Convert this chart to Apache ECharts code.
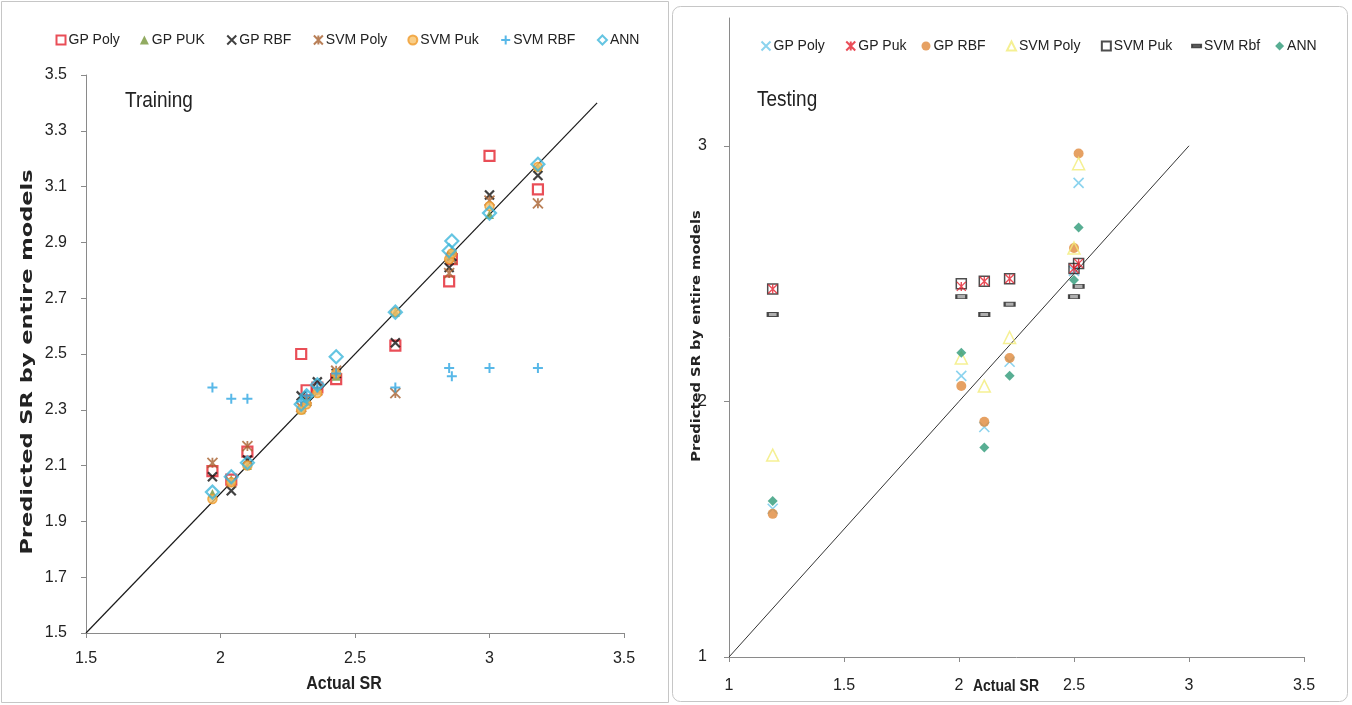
<!DOCTYPE html>
<html>
<head>
<meta charset="utf-8">
<script src="https://cdn.jsdelivr.net/npm/echarts@6/dist/echarts.min.js"></script>
<style>html,body{margin:0;padding:0;background:#fff}#c{width:1352px;height:705px}</style>
</head>
<body>
<div id="c"></div>
<script>
// ---------- Training data ----------
const trainActual = [1.97, 2.04, 2.10, 2.30, 2.32, 2.36, 2.43, 2.65, 2.85, 2.86, 3.00, 3.18];
const trainGPPoly = [2.08, 2.05, 2.15, 2.50, 2.37, 2.38, 2.41, 2.53, 2.76, 2.84, 3.21, 3.09];
const trainGPPUK  = [2.00, 2.05, 2.10, 2.30, 2.33, 2.37, 2.42, 2.65, 2.85, 2.87, 3.00, 3.17];
const trainGPRBF  = [2.06, 2.01, 2.12, 2.35, 2.33, 2.40, 2.43, 2.54, 2.81, 2.85, 3.07, 3.14];
const trainSVMPoly= [2.11, 2.04, 2.17, 2.31, 2.34, 2.37, 2.44, 2.36, 2.79, 2.84, 3.05, 3.04];
const trainSVMPuk = [1.98, 2.04, 2.10, 2.30, 2.32, 2.36, 2.43, 2.65, 2.84, 2.86, 3.03, 3.17];
const trainSVMRBF = [2.38, 2.34, 2.34, 2.33, 2.35, 2.38, 2.43, 2.38, 2.45, 2.42, 2.45, 2.45];
const trainANN    = [2.005, 2.06, 2.11, 2.32, 2.35, 2.39, 2.49, 2.65, 2.87, 2.905, 3.005, 3.18];
const trainNames  = ['GP Poly', 'GP PUK', 'GP RBF', 'SVM Poly', 'SVM Puk', 'SVM RBF', 'ANN'];
const trainLine   = [1.5, 3.4];
const trainYTicks = [1.5, 1.7, 1.9, 2.1, 2.3, 2.5, 2.7, 2.9, 3.1, 3.3, 3.5];

// ---------- Testing data ----------
const testActual  = [1.19, 2.01, 2.11, 2.22, 2.50, 2.52];
const testGPPoly  = [1.58, 2.10, 1.90, 2.155, 2.51, 2.855];
const testGPPuk   = [2.44, 2.45, 2.47, 2.48, 2.52, 2.54];
const testGPRBF   = [1.56, 2.06, 1.92, 2.17, 2.60, 2.97];
const testSVMPoly = [1.79, 2.17, 2.06, 2.25, 2.60, 2.93];
const testSVMPuk  = [2.44, 2.46, 2.47, 2.48, 2.52, 2.54];
const testSVMRbf  = [2.34, 2.41, 2.34, 2.38, 2.41, 2.45];
const testANN     = [1.61, 2.19, 1.82, 2.10, 2.475, 2.68];
const testNames   = ['GP Poly ', 'GP Puk', 'GP RBF ', 'SVM Poly ', 'SVM Puk ', 'SVM Rbf', 'ANN '];
const testLine    = [1, 3];
const testYTicks  = [1, 2, 3];

const FONT = 'Liberation Sans';
const X_PATH = 'path://M0,0L10,10M10,0L0,10';
const PLUS_PATH = 'path://M5,0L5,10M0,5L10,5';
const STAR_PATH = 'path://M0,0L10,10M10,0L0,10M5,0L5,10';
const DASH_PATH = 'path://M0,0L10,0L10,3L0,3Z';

function pairs(xs, ys) { return xs.map((x, i) => [x, ys[i]]); }

function sc(name, gi, xs, ys, symbol, size, style, z) {
  return {
    type: 'scatter', name: name, xAxisIndex: gi, yAxisIndex: gi,
    data: pairs(xs, ys), symbol: symbol, symbolSize: size,
    itemStyle: style, z: z || 3, emphasis: { disabled: true }
  };
}

const axisLineStyle = { color: '#8a8a8a', width: 1 };
const labelStyle = { fontFamily: FONT, fontSize: 16, color: '#222' };

const chart = echarts.init(document.getElementById('c'));
chart.setOption({
  animation: false,
  backgroundColor: '#fff',
  textStyle: { fontFamily: FONT },
  grid: [
    { left: 86, top: 75, width: 538, height: 558 },
    { left: 729, top: 18, width: 575, height: 639 }
  ],
  xAxis: [
    { type: 'value', gridIndex: 0, min: 1.5, max: 3.5, interval: 0.5,
      axisLine: { lineStyle: axisLineStyle }, axisTick: { length: 5, lineStyle: axisLineStyle },
      splitLine: { show: false }, axisLabel: Object.assign({ margin: 18 }, labelStyle) },
    { type: 'value', gridIndex: 1, min: 1, max: 3.5, interval: 0.5,
      axisLine: { lineStyle: axisLineStyle }, axisTick: { length: 5, lineStyle: axisLineStyle },
      splitLine: { show: false }, axisLabel: Object.assign({ margin: 21 }, labelStyle) }
  ],
  yAxis: [
    { type: 'value', gridIndex: 0, min: 1.5, max: 3.5,
      axisLine: { show: true, lineStyle: axisLineStyle },
      axisTick: { show: true, length: 5, lineStyle: axisLineStyle, customValues: trainYTicks },
      splitLine: { show: false },
      axisLabel: Object.assign({ margin: 19, customValues: trainYTicks, formatter: v => v.toFixed(1) }, labelStyle) },
    { type: 'value', gridIndex: 1, min: 1, max: 3.5,
      axisLine: { show: true, lineStyle: axisLineStyle },
      axisTick: { show: true, length: 5, lineStyle: axisLineStyle, customValues: testYTicks },
      splitLine: { show: false },
      axisLabel: Object.assign({ margin: 22, customValues: testYTicks }, labelStyle) }
  ],
  legend: [
    { data: trainNames, left: 49, top: 28, itemGap: 20, itemWidth: 9, itemHeight: 9,
      textStyle: { fontFamily: FONT, fontSize: 14, color: '#222', padding: [0, 0, 0, -2] }, selectedMode: false },
    { data: testNames, left: 754, top: 34, itemGap: 15, itemWidth: 9, itemHeight: 9,
      textStyle: { fontFamily: FONT, fontSize: 14, color: '#222', padding: [0, 0, 0, -2] }, selectedMode: false }
  ],
  graphic: [
    { type: 'rect', shape: { x: 1.5, y: 1.5, width: 667, height: 701 }, style: { fill: 'none', stroke: '#c6c6c6', lineWidth: 1 }, silent: true },
    { type: 'rect', shape: { x: 672.5, y: 6.5, width: 675, height: 695, r: 8 }, style: { fill: 'none', stroke: '#c6c6c6', lineWidth: 1 }, silent: true },
    { type: 'text', x: 125, y: 101, scaleY: 1.15, style: { text: 'Training', fontFamily: FONT, fontSize: 19, fill: '#222', verticalAlign: 'middle' } },
    { type: 'text', x: 757, y: 100, scaleY: 1.15, style: { text: 'Testing', fontFamily: FONT, fontSize: 19, fill: '#222', verticalAlign: 'middle' } },
    { type: 'text', x: 344, y: 684, scaleY: 1.2, style: { text: 'Actual SR', fontFamily: FONT, fontSize: 16, fontWeight: 'bold', fill: '#222', align: 'center', verticalAlign: 'middle' } },
    { type: 'text', x: 1006, y: 687, scaleY: 1.15, style: { text: 'Actual SR', fontFamily: FONT, fontSize: 14, fontWeight: 'bold', fill: '#222', align: 'center', verticalAlign: 'middle' } },
    { type: 'text', x: 28, y: 362, rotation: Math.PI / 2, scaleX: 1.5, style: { text: 'Predicted SR by entire models', fontFamily: 'DejaVu Sans', fontSize: 15, fontWeight: 'bold', fill: '#222', align: 'center', verticalAlign: 'middle' } },
    { type: 'text', x: 697, y: 336, rotation: Math.PI / 2, scaleX: 1.13, style: { text: 'Predicted SR by entire models', fontFamily: 'DejaVu Sans', fontSize: 13, fontWeight: 'bold', fill: '#222', align: 'center', verticalAlign: 'middle' } }
  ],
  series: [
    { type: 'line', xAxisIndex: 0, yAxisIndex: 0, data: [[trainLine[0], trainLine[0]], [trainLine[1], trainLine[1]]],
      symbol: 'none', lineStyle: { color: '#1a1a1a', width: 1.2 }, z: 2, silent: true },
    { type: 'line', xAxisIndex: 1, yAxisIndex: 1, data: [[testLine[0], testLine[0]], [testLine[1], testLine[1]]],
      symbol: 'none', lineStyle: { color: '#333', width: 1 }, z: 2, silent: true },

    sc('GP Poly', 0, trainActual, trainGPPoly, 'rect', 10, { color: 'none', borderColor: '#e3222d', borderWidth: 2.2 }),
    sc('GP PUK', 0, trainActual, trainGPPUK, 'triangle', 9, { color: '#77963a' }),
    sc('GP RBF', 0, trainActual, trainGPRBF, X_PATH, 9, { color: 'none', borderColor: '#111', borderWidth: 2.2 }),
    sc('SVM Poly', 0, trainActual, trainSVMPoly, STAR_PATH, 10, { color: 'none', borderColor: '#a8602e', borderWidth: 1.8 }),
    sc('SVM Puk', 0, trainActual, trainSVMPuk, 'circle', 9, { color: '#f8c26a', borderColor: '#ef9a2a', borderWidth: 1.5 }),
    sc('SVM RBF', 0, trainActual, trainSVMRBF, PLUS_PATH, 10, { color: 'none', borderColor: '#2ea6e2', borderWidth: 2 }),
    sc('ANN', 0, trainActual, trainANN, 'diamond', 13, { color: 'none', borderColor: '#3fb6db', borderWidth: 2.2 }),

    sc('GP Poly ', 1, testActual, testGPPoly, X_PATH, 10, { color: 'none', borderColor: '#6ec8ea', borderWidth: 1.6 }),
    sc('GP Puk', 1, testActual, testGPPuk, STAR_PATH, 9, { color: 'none', borderColor: '#e5202e', borderWidth: 1.4 }, 5),
    sc('GP RBF ', 1, testActual, testGPRBF, 'circle', 10, { color: '#e08a3c' }),
    sc('SVM Poly ', 1, testActual, testSVMPoly, 'triangle', 12, { color: 'none', borderColor: '#f2ec78', borderWidth: 1.5 }),
    sc('SVM Puk ', 1, testActual, testSVMPuk, 'rect', 10, { color: 'none', borderColor: '#222', borderWidth: 1.5 }, 4),
    sc('SVM Rbf', 1, testActual, testSVMRbf, DASH_PATH, [10, 4], { color: '#9a9a9a', borderColor: '#222', borderWidth: 1.4 }),
    sc('ANN ', 1, testActual, testANN, 'diamond', 10, { color: '#2e9a78' })
  ]
});
</script>
</body>
</html>
